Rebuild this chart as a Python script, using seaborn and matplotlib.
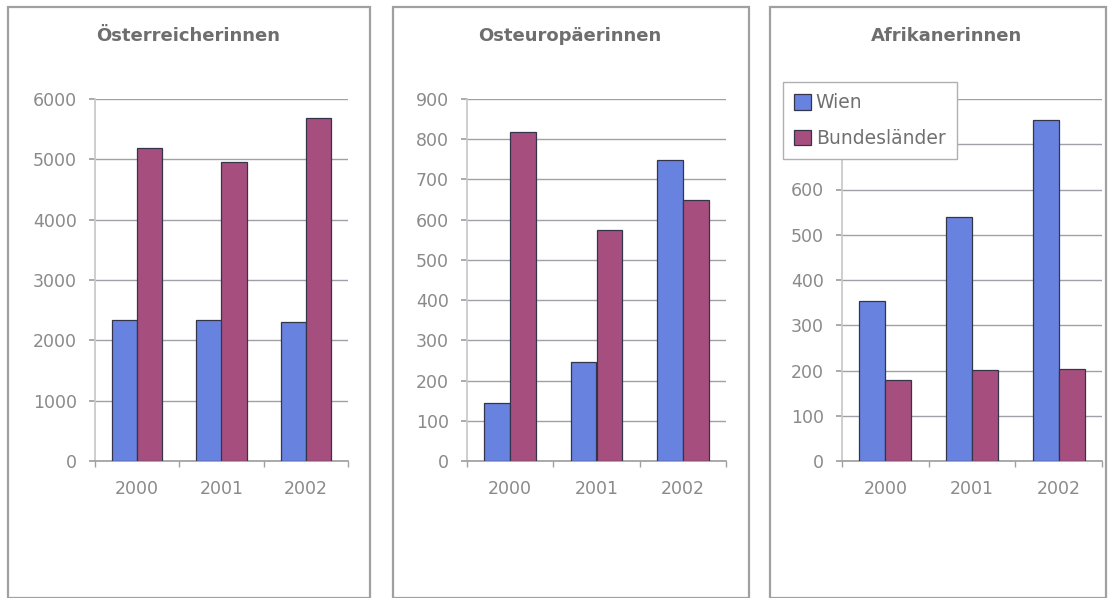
import matplotlib
matplotlib.use('Agg')
from matplotlib import pyplot as plt
from matplotlib.patches import Rectangle
import pandas as pd
import seaborn as sns

years = ['2000', '2001', '2002']
regions = ['Wien', 'Bundesländer']

titles = ['Österreicherinnen', 'Osteuropäerinnen', 'Afrikanerinnen']

oesterreich_wien = [2330, 2330, 2300]
oesterreich_bundeslaender = [5180, 4960, 5690]

osteuropa_wien = [143, 247, 748]
osteuropa_bundeslaender = [818, 574, 648]

afrika_wien = [354, 540, 754]
afrika_bundeslaender = [178, 201, 204]

y_limits = [6000, 900, 800]
y_steps = [1000, 100, 100]

BAR_COLORS = ['#6882e0', '#a64f7e']
TEXT_GREY = '#8a8a8a'


def to_frame(wien, bundeslaender):
    rows = []
    for region, values in zip(regions, [wien, bundeslaender]):
        for year, value in zip(years, values):
            rows.append({'year': year, 'region': region, 'value': value})
    return pd.DataFrame(rows)


panels = [
    to_frame(oesterreich_wien, oesterreich_bundeslaender),
    to_frame(osteuropa_wien, osteuropa_bundeslaender),
    to_frame(afrika_wien, afrika_bundeslaender),
]

sns.set_theme(style='white')
plt.rcParams['font.family'] = ['DejaVu Sans']

fig = plt.figure(figsize=(11.09, 5.98), dpi=100)
W, H = 1109, 598

# panel frames (left, right) in pixels, plot area (left, right), title centre
frames = [(8, 370), (393, 749), (770, 1106)]
plot_areas = [(95, 348), (467, 726), (842, 1102)]
title_x = [188, 570, 947]
ax_top, ax_bottom = 99, 461

for i, (data, title) in enumerate(zip(panels, titles)):
    fl, fr = frames[i]
    fig.patches.append(Rectangle((fl / W, 0), (fr - fl) / W, (H - 7) / H, transform=fig.transFigure,
                                 fill=False, edgecolor='#a0a0a0', linewidth=1.6, zorder=0))
    fig.text(title_x[i] / W, 1 - 36 / H, title, ha='center', va='center', fontsize=13,
             fontweight='bold', color='#6e6e6e')

    pl, pr = plot_areas[i]
    ax = fig.add_axes([pl / W, 1 - ax_bottom / H, (pr - pl) / W, (ax_bottom - ax_top) / H])
    sns.barplot(data=data, x='year', y='value', hue='region', palette=BAR_COLORS, width=0.6,
                edgecolor='#34344a', linewidth=0.9, saturation=1, ax=ax, legend=i == 2, zorder=3)

    ticks = list(range(0, y_limits[i] + 1, y_steps[i]))
    ax.set_ylim(0, y_limits[i])
    ax.set_yticks(ticks)
    if i == 2:
        # the legend box hides the two upper labels
        ax.set_yticklabels([str(t) if t <= 600 else '' for t in ticks])
    ax.yaxis.grid(True, color='#a0a0a8', linewidth=1.0, zorder=0)
    ax.set_axisbelow(True)
    ax.set_xlabel('')
    ax.set_ylabel('')
    for side in ['top', 'right']:
        ax.spines[side].set_visible(False)
    ax.spines['left'].set_color('#c8c8c8')
    ax.spines['bottom'].set_color('#a0a0a0')
    ax.tick_params(axis='y', left=True, length=4, color='#a0a0a0', labelsize=12.5,
                   labelcolor=TEXT_GREY, pad=9)
    ax.tick_params(axis='x', bottom=False, labelsize=12.5, labelcolor=TEXT_GREY, pad=8)
    ax.set_xticks([-0.5, 0.5, 1.5, 2.5], minor=True)
    ax.tick_params(axis='x', which='minor', bottom=True, length=4, color='#a0a0a0')

    if i == 2:
        leg = ax.legend(loc='upper left', bbox_to_anchor=(783 / W, 1 - 82 / H),
                        bbox_transform=fig.transFigure, frameon=True, fancybox=False,
                        framealpha=1, fontsize=13.5, labelspacing=0.9, handlelength=0.9,
                        handleheight=0.9, handletextpad=0.25, borderpad=0.6, borderaxespad=0)
        leg.get_frame().set_edgecolor('#b0b0b0')
        leg.get_frame().set_linewidth(1.0)
        for text in leg.get_texts():
            text.set_color('#707070')
        leg.set_zorder(5)

fig.savefig('out.png', dpi=100, facecolor='white')
